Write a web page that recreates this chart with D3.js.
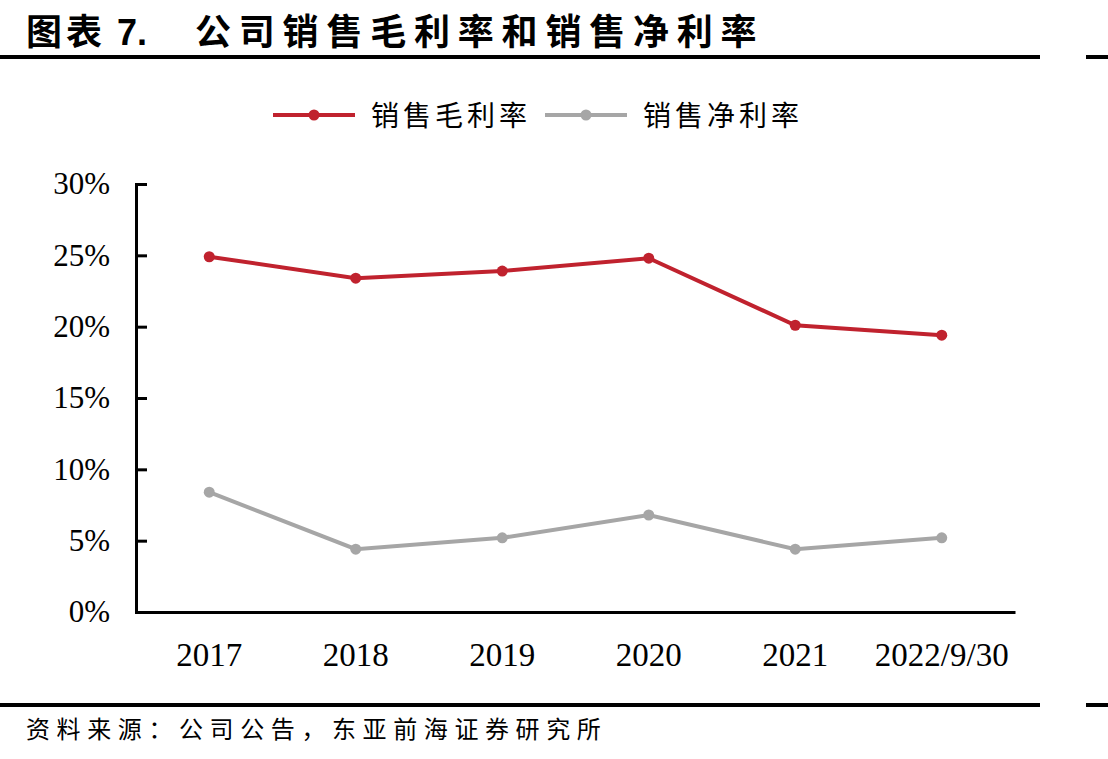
<!DOCTYPE html>
<html><head><meta charset="utf-8">
<script src="https://cdn.jsdelivr.net/npm/d3@7/dist/d3.min.js"></script>
<style>body{margin:0;background:#fff}svg{display:block}</style>
</head><body>
<svg id="c" width="1108" height="759"></svg>
<script>
const categories = ["2017","2018","2019","2020","2021","2022/9/30"];
const grossMargin = [24.9, 23.4, 23.9, 24.8, 20.1, 19.4];
const netMargin = [8.4, 4.4, 5.2, 6.8, 4.4, 5.2];
const yTicks = [0,5,10,15,20,25,30];
const seriesNames = ["销售毛利率","销售净利率"];
const colors = ["#c0222e","#a6a6a6"];

(function(){
const svg = d3.select("#c");
const cjk = "'Noto Sans CJK SC','Noto Sans',sans-serif";
const serif = "'Liberation Serif','Times New Roman',serif";

// title
svg.append("text").attr("x",26).attr("y",45).attr("font-family",cjk).attr("font-weight","bold")
  .attr("font-size",36).attr("letter-spacing",4).attr("fill","#000").text("图表");
svg.append("text").attr("x",117).attr("y",45).attr("font-family","'Liberation Sans',Arial,sans-serif").attr("font-weight","bold")
  .attr("font-size",36).attr("fill","#000").text("7.");
svg.append("text").attr("x",195).attr("y",45).attr("font-family",cjk).attr("font-weight","bold")
  .attr("font-size",36).attr("letter-spacing",7.8).attr("fill","#000").text("公司销售毛利率和销售净利率");
svg.append("rect").attr("x",0).attr("y",55).attr("width",1040).attr("height",4).attr("fill","#000");
svg.append("rect").attr("x",1086).attr("y",55).attr("width",22).attr("height",4).attr("fill","#000");
svg.append("rect").attr("x",0).attr("y",703).attr("width",1040).attr("height",4).attr("fill","#000");
svg.append("rect").attr("x",1086).attr("y",703).attr("width",22).attr("height",4).attr("fill","#000");
svg.append("text").attr("x",26).attr("y",738).attr("font-family",cjk).attr("font-size",24)
  .attr("letter-spacing",6.6).attr("fill","#000").text("资料来源：公司公告，东亚前海证券研究所");

const pl=136, pr=1015, pt=184, pb=612;
const x = d3.scaleBand().domain(categories).range([pl,pr]);
const y = d3.scaleLinear().domain([0,30]).range([pb,pt]);

// y axis
const ya = svg.append("g").attr("transform",`translate(${pl},0)`)
  .call(d3.axisLeft(y).tickValues(yTicks).tickSize(-11).tickPadding(26).tickFormat(d=>d+"%"));
ya.select(".domain").attr("stroke","#000").attr("stroke-width",3);
ya.selectAll(".tick line").attr("stroke","#000").attr("stroke-width",3);
ya.selectAll(".tick text").attr("font-family",serif).attr("font-size",31).attr("fill","#000");

// x axis
const xa = svg.append("g").attr("transform",`translate(0,${pb})`)
  .call(d3.axisBottom(x).tickSize(0).tickPadding(31));
xa.select(".domain").attr("stroke","#000").attr("stroke-width",3);
xa.selectAll(".tick text").attr("font-family",serif).attr("font-size",33).attr("fill","#000");

const cx = d => x(d)+x.bandwidth()/2;
[grossMargin, netMargin].forEach((vals,i)=>{
  const pts = categories.map((c,j)=>[cx(c), y(vals[j])]);
  svg.append("path").attr("d", d3.line()(pts)).attr("fill","none")
    .attr("stroke",colors[i]).attr("stroke-width",4);
  svg.selectAll(null).data(pts).enter().append("circle")
    .attr("cx",d=>d[0]).attr("cy",d=>d[1]).attr("r",5.5).attr("fill",colors[i]);
});

// legend
const legX = [273, 545];
seriesNames.forEach((n,i)=>{
  const g = svg.append("g").attr("transform",`translate(${legX[i]},115)`);
  g.append("line").attr("x1",0).attr("x2",82).attr("stroke",colors[i]).attr("stroke-width",4);
  g.append("circle").attr("cx",41).attr("r",5.5).attr("fill",colors[i]);
  g.append("text").attr("x",98).attr("y",11).attr("font-family",cjk).attr("font-size",28)
    .attr("letter-spacing",4).attr("fill","#000").text(n);
});
})();
</script>
</body></html>
